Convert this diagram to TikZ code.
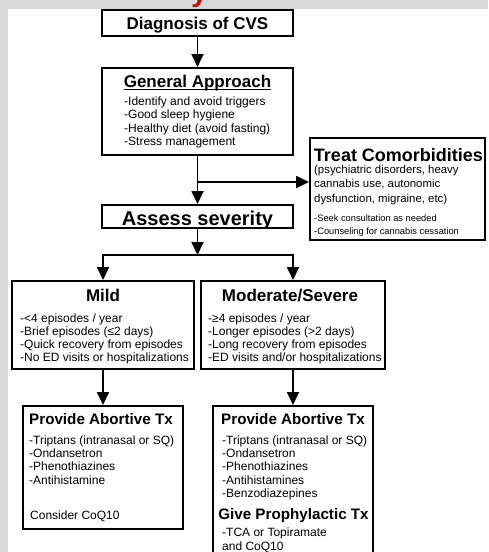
\documentclass[tikz,border=0pt]{standalone}
\usepackage{fontspec}
\setmainfont{Liberation Sans}
\usetikzlibrary{arrows.meta}
\definecolor{bggray}{RGB}{217,217,217}
\definecolor{titlered}{RGB}{210,10,10}
\begin{document}
\begin{tikzpicture}[x=1pt,y=-1pt,
  box/.style={draw=black, line width=2pt, fill=white, inner sep=0pt},
  arr/.style={line width=1.8pt, -{Triangle[width=12pt,length=13pt]}},
  ln/.style={line width=1.8pt},
  ttl/.style={inner sep=0pt, anchor=base, font=\bfseries\fontsize{17}{17}\selectfont},
  sub/.style={inner sep=0pt, anchor=base, font=\bfseries\fontsize{15.2}{15.2}\selectfont},
  body/.style={inner sep=0pt, anchor=base west, font=\fontsize{12}{12}\selectfont},
  small/.style={inner sep=0pt, anchor=base west, font=\fontsize{9.3}{9.3}\selectfont},
  mid/.style={inner sep=0pt, anchor=base west, font=\fontsize{11.4}{11.4}\selectfont},
  ]
\useasboundingbox (0,0) rectangle (488,552);
\fill[bggray] (0,0) rectangle (488,552);
\fill[white] (8,9) rectangle (488,552);
\begin{scope}
\clip (0,0) rectangle (488,552);
\node[inner sep=0pt, anchor=base west, text=titlered, font=\bfseries\fontsize{30}{30}\selectfont] (ttly) at (191,1) {y};

% boxes
\node[box, minimum width=191pt, minimum height=26pt] (diag) at (197.5,23) {};
\node[box, minimum width=191pt, minimum height=87pt] (gen) at (197.5,111.5) {};
\node[box, minimum width=191pt, minimum height=23pt] (assess) at (197.5,216.5) {};
\node[box, minimum width=175pt, minimum height=102pt] (treat) at (397.5,189) {};
\node[box, minimum width=182pt, minimum height=88pt] (mild) at (103,325) {};
\node[box, minimum width=184pt, minimum height=88pt] (mod) at (293,325) {};
\node[box, minimum width=160pt, minimum height=123pt] (abA) at (103,467.5) {};
\node[box, minimum width=160pt, minimum height=166pt] (abB) at (293,489) {};

% connectors
\draw[arr] (diag.south) -- (gen.north);
\coordinate (br) at (197.5,182);
\draw[ln] (gen.south) -- (br);
\draw[arr] (br) -- (assess.north);
\draw[arr] (br) -- (br -| treat.west);
\coordinate (split) at (197.5,255);
\draw[arr] (assess.south) -- (split);
\draw[arr] (split) -| (mild.north);
\draw[arr] (split) -| (mod.north);
\draw[arr] (mild.south) -- (abA.north);
\draw[arr] (mod.south) -- (abB.north);

% texts
\node[ttl] (tdiag) at (197.5,29) {Diagnosis of CVS};
\node[ttl] (tgen) at (197.5,87) {General Approach};
\draw[line width=1pt] ([yshift=-2pt]tgen.base west) -- ([yshift=-2pt]tgen.base east);
\foreach \t [count=\i] in {-Identify and avoid triggers, -Good sleep hygiene, -Healthy diet (avoid fasting), -Stress management}
  \node[body] (g\i) at (124,{105+13.5*(\i-1)}) {\t};
\node[inner sep=0pt, anchor=base, font=\bfseries\fontsize{20}{20}\selectfont] (tassess) at (197.5,225) {Assess severity};

\node[inner sep=0pt, anchor=base, font=\bfseries\fontsize{18}{18}\selectfont] (ttreat) at (398.5,161) {Treat Comorbidities};
\foreach \t [count=\i] in {{(psychiatric disorders, heavy}, {cannabis use, autonomic}, {dysfunction, migraine, etc)}}
  \node[mid] (c\i) at (314,{173+14.5*(\i-1)}) {\t};
\node[small] (s1) at (314,221) {-Seek consultation as needed};
\node[small] (s2) at (314,234) {-Counseling for cannabis cessation};

\node[ttl] (tmild) at (103,301) {Mild};
\foreach \t [count=\i] in {-<4 episodes / year, -Brief episodes (≤2 days), -Quick recovery from episodes, -No ED visits or hospitalizations}
  \node[body] (m\i) at (20,{322+13.3*(\i-1)}) {\t};
\node[ttl] (tmod) at (290,301) {Moderate/Severe};
\foreach \t [count=\i] in {-≥4 episodes / year, -Longer episodes (>2 days), -Long recovery from episodes, -ED visits and/or hospitalizations}
  \node[body] (n\i) at (208,{322+13.3*(\i-1)}) {\t};

\node[sub] (tabA) at (101,424.5) {Provide Abortive Tx};
\foreach \t [count=\i] in {-Triptans (intranasal or SQ), -Ondansetron, -Phenothiazines, -Antihistamine}
  \node[body] (a\i) at (29,{444.3+13.3*(\i-1)}) {\t};
\node[body] (aq) at (30,519.3) {Consider CoQ10};

\node[sub] (tabB) at (293,424.5) {Provide Abortive Tx};
\foreach \t [count=\i] in {-Triptans (intranasal or SQ), -Ondansetron, -Phenothiazines, -Antihistamines, -Benzodiazepines}
  \node[body] (b\i) at (222,{444.3+13.3*(\i-1)}) {\t};
\node[sub] (tproph) at (293.5,519.5) {Give Prophylactic Tx};
\node[body] (p1) at (222,536) {-TCA or Topiramate};
\node[body] (p2) at (222,550) {and CoQ10};
\end{scope}
\end{tikzpicture}
\end{document}
